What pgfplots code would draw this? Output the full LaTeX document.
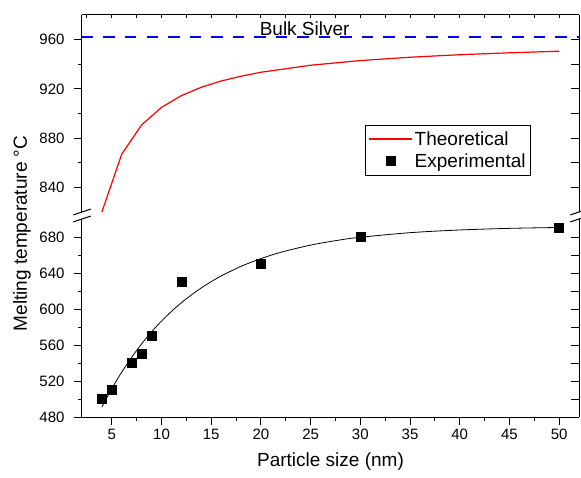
\documentclass[border=0pt]{standalone}
\usepackage{fontspec}
\setmainfont{Liberation Sans}
\usepackage{pgfplots}
\pgfplotsset{compat=1.18}
\begin{document}
\begin{tikzpicture}
\pgfplotsset{
  common/.style={
    scale only axis, width=497pt,
    xmin=2, xmax=52,
    every tick/.style={black, line width=1pt},
    /pgf/number format/assume math mode=true,
    tick label style={font=\fontsize{15}{18}\selectfont},
  },
}
\useasboundingbox (-82pt,-60pt) rectangle (499pt,417pt);
% ---------------- lower panel ----------------
\begin{axis}[common, at={(0pt,0pt)}, anchor=south west, height=198pt,
  ymin=480, ymax=700,
  axis x line*=bottom, axis y line*=left,
  axis line style={line width=1pt,-},
  tick align=outside, major tick length=8pt, minor tick length=4pt,
  xtick={5,10,...,50}, minor x tick num=1,
  ytick={480,520,...,680}, minor y tick num=1,
  xticklabel style={anchor=base, yshift=-14pt},
  yticklabel style={anchor=east, xshift=-6pt},
]
\addplot[black, line width=0.8pt, smooth] coordinates {
(4,491) (5,511.5) (6,529.9) (7,546.4) (8,561.3) (9,574.6) (10,586.6)
(11,597.3) (12,607.0) (13,615.6) (14,623.4) (15,630.4) (16,636.7)
(18,647.4) (20,656.0) (22,663.0) (25,671.0) (28,676.8) (30,679.7)
(35,684.8) (40,687.8) (45,689.6) (50,690.6)};
\addplot[only marks, mark=square*, mark size=4.5pt, black] coordinates {
(4,500) (5,510) (7,540) (8,550) (9,570) (12,630) (20,650) (30,680) (50,690)};
\end{axis}
% right ticks lower
\begin{axis}[common, at={(0pt,0pt)}, anchor=south west, height=198pt,
  ymin=480, ymax=700,
  axis x line=none, axis y line*=right,
  axis line style={line width=1pt,-},
  tick align=inside, major tick length=8pt,
  xtick=\empty, ytick={500,520,...,680}, yticklabels={},
]
\end{axis}
% ---------------- upper panel ----------------
\begin{axis}[common, at={(0pt,205pt)}, anchor=south west, height=197pt,
  ymin=820, ymax=980,
  axis x line=none, axis y line*=left,
  axis line style={line width=1pt,-},
  tick align=outside, major tick length=8pt, minor tick length=4pt,
  xtick=\empty, ytick={840,880,920,960}, minor y tick num=1,
  yticklabel style={anchor=east, xshift=-6pt},
  legend style={at={(0.9034,0.4416)}, anchor=north east, draw=black,
    line width=0.8pt, font=\fontsize{19}{22}\selectfont,
    inner xsep=3pt, inner ysep=4pt, row sep=3pt},
  legend cell align=left,
  legend image code/.code={\draw[mark repeat=2,mark phase=2,#1] plot coordinates {(0pt,0pt) (21.5pt,0pt) (43pt,0pt)};},
]
\addplot[red, line width=1.2pt] coordinates {
(4,820) (6,867.0) (8,890.75) (10,905.0) (12,914.5) (14,921.3) (16,926.4)
(18,930.3) (20,933.5) (25,939.2) (30,943.0) (35,945.7) (40,947.75)
(45,949.3) (50,950.6)};
\addlegendentry{Theoretical}
\addplot[blue, line width=1.8pt, dash pattern=on 11.5pt off 10pt, forget plot] coordinates {(2,962) (52,962)};
\addlegendimage{only marks, mark=square*, mark size=4.5pt, black}
\addlegendentry{Experimental}
\node[anchor=base, font=\fontsize{19}{22}\selectfont, inner sep=0pt] at (axis cs:24.4,962) [yshift=1.8pt] {Bulk Silver};
\end{axis}
% top ticks upper
\begin{axis}[common, at={(0pt,205pt)}, anchor=south west, height=197pt,
  ymin=820, ymax=980,
  axis x line*=top, axis y line=none,
  axis line style={line width=1pt,-},
  tick align=inside, major tick length=3pt,
  xtick={2.5,5,...,50}, xticklabels={}, ytick=\empty,
]
\end{axis}
% right ticks upper
\begin{axis}[common, at={(0pt,205pt)}, anchor=south west, height=197pt,
  ymin=820, ymax=980,
  axis x line=none, axis y line*=right,
  axis line style={line width=1pt,-},
  tick align=inside, major tick length=8pt,
  xtick=\empty, ytick={840,860,...,960}, yticklabels={},
]
\end{axis}
% axis breaks
\draw[line width=1pt] (-8.7pt,195.1pt) -- (8.7pt,200.9pt);
\draw[line width=1pt] (-8.7pt,202.1pt) -- (8.7pt,207.9pt);
\draw[line width=1pt] (488.3pt,195.1pt) -- (505.7pt,200.9pt);
\draw[line width=1pt] (488.3pt,202.1pt) -- (505.7pt,207.9pt);
% labels
\node[anchor=base, font=\fontsize{19}{22}\selectfont] at (248.5pt,-49.7pt) {Particle size (nm)};
\node[rotate=90, font=\fontsize{19}{22}\selectfont] at (-60pt,183.5pt) {Melting temperature °C};
\end{tikzpicture}
\end{document}
